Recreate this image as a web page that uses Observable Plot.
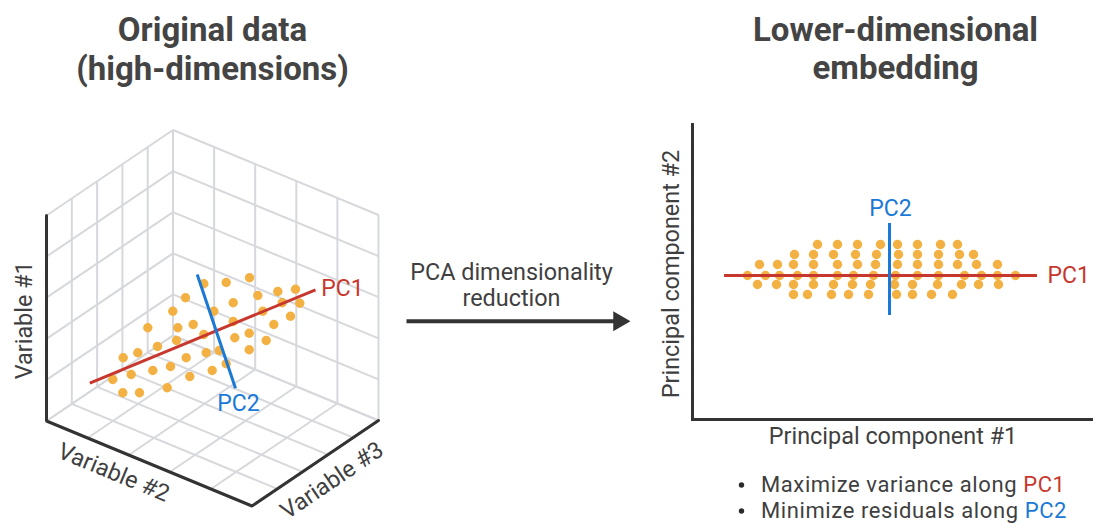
<!DOCTYPE html>
<html><head><meta charset="utf-8">
<script src="https://cdn.jsdelivr.net/npm/d3@7"></script>
<script src="https://cdn.jsdelivr.net/npm/@observablehq/plot@0.6"></script>
<style>
html,body{margin:0;padding:0;background:#fff;}
#wrap{position:relative;width:1093px;height:524px;overflow:hidden;}
#wrap svg{position:absolute;background:transparent;}
</style></head><body><div id="wrap"></div>
<script>
// ---------------- data ----------------
const gridSteps = [0, 1, 2, 3, 4, 5];
const cubeAxisLabels = ["Variable #1", "Variable #2", "Variable #3"];
// left panel: 3D cloud as seen in the picture (projected page coordinates)
const origDotX = [203.3,225.7,249,185,257.3,277.3,295,232.7,213.3,172.3,262.3,281.7,299.3,147.3,177.3,192.7,232.7,273.3,290,248.7,203.3,176,234.3,265.7,157,137.3,122.7,185.7,205.7,218.7,248.7,130.7,152.3,170,211.7,225.7,189.3,112.3,122.3,139,166.7];
const origDotY = [283.3,282,277.3,297.3,295,291,288.7,302.3,310.7,310.7,310.7,302.3,302.7,327.3,327.3,324,321,324,315.7,332.7,334,340,337.3,340,346,352.3,357.3,357.3,352.3,350,349.3,374,370,366,370,363.3,376,379,392.3,392.3,387.3];
const origPC1 = {x: [89.3, 315], y: [382.7, 289.3]};
const origPC2 = {x: [196.7, 235], y: [274, 387.7]};
// right panel: scores on the principal components
const pc2Levels = [3.1, 2.1, 1.1, 0, -0.9, -1.9];
const pc1ByLevel = [
  [-7.2,-5.2,-3.2,-0.9,0.8,2.8,5.1,6.8],
  [-9.5,-7.6,-5.6,-3.4,-1.3,0.9,2.8,4.9,7.0,8.4],
  [-13.0,-11.2,-9.6,-7.6,-5.2,-3.2,-1.4,0.8,2.8,4.9,6.8,8.7,10.8],
  [-14.2,-12.4,-11.0,-9.2,-7.6,-5.2,-3.6,-1.6,0.6,2.8,4.9,7.5,9.2,10.8,12.6],
  [-13.2,-11.3,-9.6,-7.6,-5.6,-3.7,-1.9,0.5,2.3,4.8,7.2,8.9,10.9],
  [-9.6,-8.2,-5.8,-4.1,-2.1,0.7,2.3,4.2,6.3]
];
const pc1Extent = [-16.5, 14.8];
const pc2Extent = [-4.0, 5.2];
const titles = [["Original data", "(high-dimensions)"], ["Lower-dimensional", "embedding"]];
const arrowText = ["PCA dimensionality", "reduction"];
const bullets = [["Maximize variance along ", "PC1"], ["Minimize residuals along ", "PC2"]];

// ---------------- styles ----------------
const FONT = "Roboto, 'Noto Sans', sans-serif";
const RED = "#c8372d", BLUE = "#1a78d6", ORANGE = "#f4b143", DARK = "#333333", TEXT = "#3f3f3f", GRID = "#d6d8dc";
const FS = 23.4, FS_PC = 23, FS_B = 22;

// oblique projection of the cube (l: toward left-front, r: toward right-front, w: up)
const proj = ([l, r, w]) => [172.5 - 25.3 * l + 41.1 * r, 335 + 17.1 * l + 17.0 * r - 41.1 * w];

const gridSegs = [];
for (const k of gridSteps) {
  gridSegs.push([[k,0,0],[k,0,5]], [[0,0,k],[5,0,k]]); // left wall
  gridSegs.push([[0,k,0],[0,k,5]], [[0,0,k],[0,5,k]]); // right wall
  gridSegs.push([[k,0,0],[k,5,0]], [[0,k,0],[5,k,0]]); // floor
}
const axisPath = [[5,0,5],[5,0,0],[5,5,0],[0,5,0]];
const axisLabelPos = [
  {text: cubeAxisLabels[0], p: [5,0,2.45], dx: -22, dy: 0, rot: -90},
  {text: cubeAxisLabels[1], p: [5,1.84,0], dx: -8.4, dy: 20.3, rot: 22.5},
  {text: cubeAxisLabels[2], p: [2.36,5,0], dx: 13.3, dy: 19.6, rot: -34.0}
];
const origDots = origDotX.map((x, i) => ({x, y: origDotY[i]}));

const triRight = {draw(ctx, size) { const r = Math.sqrt(size / Math.PI);
  ctx.moveTo(r * 1.55, 0); ctx.lineTo(-r * 0.78, -r * 1.35); ctx.lineTo(-r * 0.78, r * 1.35); ctx.closePath(); }};

const wrap = document.getElementById("wrap");

// ---------------- page / left panel ----------------
const page = Plot.plot({
  width: 1093, height: 524, margin: 0,
  x: {domain: [0, 1093], range: [0, 1093], axis: null},
  y: {domain: [0, 524], range: [0, 524], axis: null},
  style: {background: "transparent"},
  marks: [
    Plot.link(gridSegs, {x1: d => proj(d[0])[0], y1: d => proj(d[0])[1], x2: d => proj(d[1])[0], y2: d => proj(d[1])[1], stroke: GRID, strokeWidth: 2}),
    Plot.line(axisPath, {x: d => proj(d)[0], y: d => proj(d)[1], stroke: DARK, strokeWidth: 3, strokeLinejoin: "miter"}),
    Plot.text(axisLabelPos, {x: d => proj(d.p)[0] + d.dx, y: d => proj(d.p)[1] + d.dy, text: "text", rotate: d => d.rot, fontSize: FS, fontFamily: FONT, fill: TEXT, lineAnchor: "middle"}),
    Plot.dot(origDots, {x: "x", y: "y", r: 4.7, fill: ORANGE}),
    Plot.link([origPC1], {x1: d => d.x[0], x2: d => d.x[1], y1: d => d.y[0], y2: d => d.y[1], stroke: RED, strokeWidth: 3}),
    Plot.link([origPC2], {x1: d => d.x[0], x2: d => d.x[1], y1: d => d.y[0], y2: d => d.y[1], stroke: BLUE, strokeWidth: 3}),
    Plot.text(["PC1"], {x: origPC1.x[1] + 5.7, y: origPC1.y[1] + 6.5, text: d => d, textAnchor: "start", lineAnchor: "bottom", fontSize: FS_PC, fontFamily: FONT, fill: RED}),
    Plot.text(["PC2"], {x: origPC2.x[1] + 3, y: origPC2.y[1] + 22.5, text: d => d, textAnchor: "middle", lineAnchor: "bottom", fontSize: FS_PC, fontFamily: FONT, fill: BLUE}),
    // arrow
    Plot.link([{x1: 406, x2: 620, y: 320.7}], {x1: "x1", x2: "x2", y1: "y", y2: "y", stroke: DARK, strokeWidth: 4}),
    Plot.dot([{x: 618.5, y: 320.7}], {x: "x", y: "y", r: 7.4, symbol: triRight, fill: DARK}),
    Plot.text(arrowText, {x: 511, y: (d, i) => 279 + i * 26, text: d => d, textAnchor: "middle", lineAnchor: "bottom", fontSize: FS, fontFamily: FONT, fill: TEXT}),
    // titles
    Plot.text(titles[0], {x: 212, y: (d, i) => 40 + i * 39, text: d => d, textAnchor: "middle", lineAnchor: "bottom", fontSize: 33, fontWeight: "bold", fontFamily: FONT, fill: "#444"}),
    Plot.text(titles[1], {x: 895, y: (d, i) => 40 + i * 38, text: d => d, textAnchor: "middle", lineAnchor: "bottom", fontSize: 33, fontWeight: "bold", fontFamily: FONT, fill: "#444"}),
    // bullet markers
    Plot.dot(bullets, {x: 741, y: (d, i) => 484.5 + i * 26, r: 2.7, fill: "#2a2a2a"})
  ]
});
page.style.left = "0px"; page.style.top = "0px";
wrap.appendChild(page);

// bullet text with coloured tail
const svgNS = "http://www.w3.org/2000/svg";
bullets.forEach((b, i) => {
  const t = document.createElementNS(svgNS, "text");
  t.setAttribute("x", 761); t.setAttribute("y", 491.5 + i * 26);
  t.setAttribute("text-anchor", "start");
  t.setAttribute("font-family", FONT); t.setAttribute("font-size", FS_B);
  t.setAttribute("letter-spacing", "0.6");
  const a = document.createElementNS(svgNS, "tspan"); a.setAttribute("fill", TEXT); a.textContent = b[0];
  const c = document.createElementNS(svgNS, "tspan"); c.setAttribute("fill", i === 0 ? RED : BLUE); c.textContent = b[1];
  t.appendChild(a); t.appendChild(c); page.appendChild(t);
});

// ---------------- right panel ----------------
const scores = pc2Levels.flatMap((y, i) => pc1ByLevel[i].map(x => ({pc1: x, pc2: y})));
const right = Plot.plot({
  width: 453, height: 340, marginLeft: 52, marginRight: 0, marginTop: 14, marginBottom: 31,
  x: {domain: [-19.7, 20.4], axis: null},
  y: {domain: [-14.4, 15.1], axis: null},
  style: {background: "transparent", overflow: "visible"},
  marks: [
    Plot.dot(scores, {x: "pc1", y: "pc2", r: 4.7, fill: ORANGE}),
    Plot.ruleY([0], {x1: pc1Extent[0], x2: pc1Extent[1], stroke: RED, strokeWidth: 3}),
    Plot.ruleX([0], {y1: pc2Extent[0], y2: pc2Extent[1], stroke: BLUE, strokeWidth: 3}),
    Plot.text(["PC1"], {x: pc1Extent[1] + 1.0, y: 0, text: d => d, textAnchor: "start", lineAnchor: "middle", fontSize: FS_PC, fontFamily: FONT, fill: RED}),
    Plot.text(["PC2"], {x: 0.1, y: pc2Extent[1] + 0.8, text: d => d, textAnchor: "middle", lineAnchor: "bottom", fontSize: FS_PC, fontFamily: FONT, fill: BLUE}),
    Plot.frame({anchor: "left", stroke: DARK, strokeWidth: 3, strokeLinecap: "square"}),
    Plot.frame({anchor: "bottom", stroke: DARK, strokeWidth: 3, strokeLinecap: "square"}),
    Plot.text(["Principal component #1"], {frameAnchor: "bottom", dy: 24, text: d => d, textAnchor: "middle", lineAnchor: "bottom", fontSize: FS, fontFamily: FONT, fill: TEXT}),
    Plot.text(["Principal component #2"], {frameAnchor: "left", dx: -21, dy: 2, rotate: -90, text: d => d, textAnchor: "middle", lineAnchor: "middle", fontSize: FS, fontFamily: FONT, fill: TEXT})
  ]
});
right.style.left = "640px"; right.style.top = "110px";
wrap.appendChild(right);
</script></body></html>
